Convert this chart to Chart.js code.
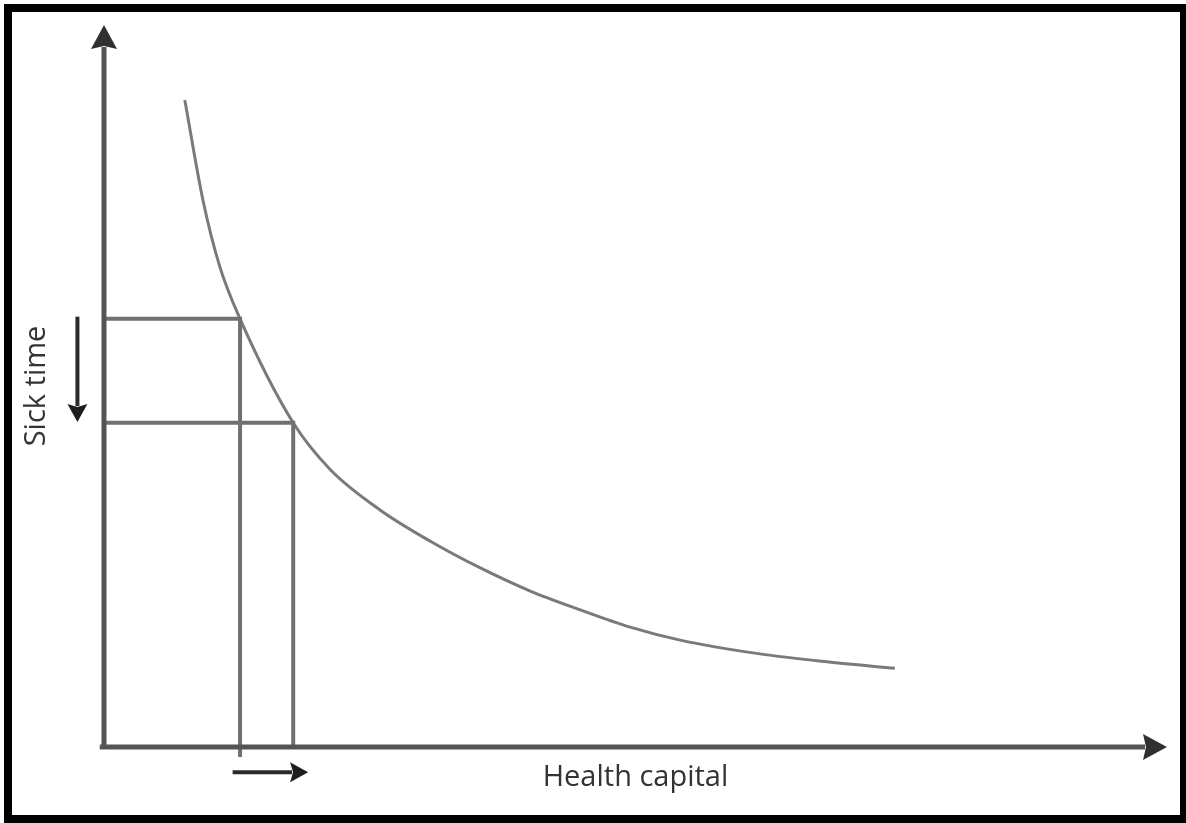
<!DOCTYPE html>
<html>
<head>
<meta charset="utf-8">
<script src="https://cdn.jsdelivr.net/npm/chart.js@4.4.1/dist/chart.umd.min.js"></script>
<style>
  html, body { margin: 0; padding: 0; background: #fff; }
  #wrap { position: relative; width: 1186px; height: 823px; overflow: hidden; }
  #c { position: absolute; left: 0; top: 0; }
  #frame { position: absolute; left: 4px; top: 4px; width: 1182px; height: 819px; box-sizing: border-box;
           border-style: solid; border-color: #000; border-width: 8px 6px 8px 8px; pointer-events: none; }
</style>
</head>
<body>
<div id="wrap">
  <canvas id="c" width="1186" height="823"></canvas>
  <div id="frame"></div>
</div>
<script>
// ---- data (value space: 0..100 on both axes) ----
const curveX = [7.6, 9.3, 10.9, 12.8, 17.8, 21.3, 26.0, 30.7, 35.4, 40.1, 44.8, 49.5, 54.2, 61.7, 68.0, 74.4];
const curveY = [89.6, 75.8, 66.5, 59.3, 44.9, 38.4, 32.8, 28.5, 24.8, 21.6, 19.0, 16.6, 14.8, 12.9, 11.8, 10.9];

const dropAX = [0, 12.8, 12.8];
const dropAY = [59.3, 59.3, -1.4];
const dropBX = [0, 17.8, 17.8];
const dropBY = [44.9, 44.9, 0];

const yAxisX = [0, 0];
const yAxisY = [0, 100];
const xAxisX = [-0.4, 100];
const xAxisY = [0, 0];

const downArrowX = [-2.5, -2.5];
const downArrowY = [59.6, 45.0];
const rightArrowX = [12.1, 19.2];
const rightArrowY = [-3.5, -3.5];

const axisTitles = ["Sick time", "Health capital"];

function pts(xs, ys) { return xs.map((x, i) => ({ x: x, y: ys[i] })); }

const arrowPlugin = {
  id: 'arrows',
  afterDatasetsDraw(chart) {
    const ctx = chart.ctx;
    chart.data.datasets.forEach((ds, i) => {
      if (!ds.arrow) return;
      const meta = chart.getDatasetMeta(i);
      const p0 = meta.data[0], p1 = meta.data[meta.data.length - 1];
      const a = ds.arrow;
      const dx = p1.x - p0.x, dy = p1.y - p0.y;
      const len = Math.hypot(dx, dy);
      const ux = dx / len, uy = dy / len;
      const bx = p1.x - ux * a.head, by = p1.y - uy * a.head;
      ctx.save();
      ctx.strokeStyle = a.lineColor;
      ctx.lineWidth = a.width;
      ctx.lineCap = 'butt';
      ctx.beginPath();
      ctx.moveTo(p0.x, p0.y);
      ctx.lineTo(bx + ux * 2, by + uy * 2);
      ctx.stroke();
      ctx.fillStyle = a.headColor;
      ctx.beginPath();
      ctx.moveTo(p1.x, p1.y);
      ctx.lineTo(bx - uy * a.half, by + ux * a.half);
      ctx.lineTo(bx + ux * a.notch, by + uy * a.notch);
      ctx.lineTo(bx + uy * a.half, by - ux * a.half);
      ctx.closePath();
      ctx.fill();
      ctx.restore();
    });
    // axis titles
    const xs = chart.scales.x, ys = chart.scales.y;
    const area = chart.chartArea;
    ctx.save();
    ctx.fillStyle = '#333333';
    ctx.font = '29px "Open Sans", "DejaVu Sans", sans-serif';
    ctx.textAlign = 'center';
    ctx.textBaseline = 'alphabetic';
    ctx.fillText(axisTitles[1], xs.getPixelForValue(50), area.bottom + 39);
    ctx.translate(area.left - 59, ys.getPixelForValue(50));
    ctx.rotate(-Math.PI / 2);
    ctx.fillText(axisTitles[0], 0, 0);
    ctx.restore();
  }
};

const lineDs = (xs, ys, color, width, extra) => Object.assign({
  data: pts(xs, ys), showLine: true, borderColor: color, borderWidth: width,
  pointRadius: 0, pointHoverRadius: 0, tension: 0, clip: false, fill: false
}, extra || {});

const arrowDs = (xs, ys, arrow) => ({
  data: pts(xs, ys), showLine: false, pointRadius: 0, pointHoverRadius: 0, clip: false, arrow: arrow
});

new Chart(document.getElementById('c'), {
  type: 'scatter',
  data: {
    datasets: [
      lineDs(dropAX, dropAY, '#707070', 4),
      lineDs(dropBX, dropBY, '#707070', 4),
      lineDs(curveX, curveY, '#7a7a7a', 3, { cubicInterpolationMode: 'monotone' }),
      arrowDs(yAxisX, yAxisY, { lineColor: '#545454', headColor: '#303030', width: 5, head: 24, half: 13, notch: 3 }),
      arrowDs(xAxisX, xAxisY, { lineColor: '#545454', headColor: '#303030', width: 5, head: 24, half: 13, notch: 3 }),
      arrowDs(downArrowX, downArrowY, { lineColor: '#2a2a2a', headColor: '#1e1e1e', width: 4, head: 18, half: 10, notch: 3 }),
      arrowDs(rightArrowX, rightArrowY, { lineColor: '#2a2a2a', headColor: '#1e1e1e', width: 4, head: 18, half: 10, notch: 3 })
    ]
  },
  options: {
    responsive: false,
    devicePixelRatio: 1,
    animation: false,
    events: [],
    layout: { padding: { left: 104, right: 19, top: 25, bottom: 76 } },
    plugins: { legend: { display: false }, tooltip: { enabled: false } },
    scales: {
      x: { type: 'linear', min: 0, max: 100, display: false },
      y: { type: 'linear', min: 0, max: 100, display: false }
    }
  },
  plugins: [arrowPlugin]
});
</script>
</body>
</html>
